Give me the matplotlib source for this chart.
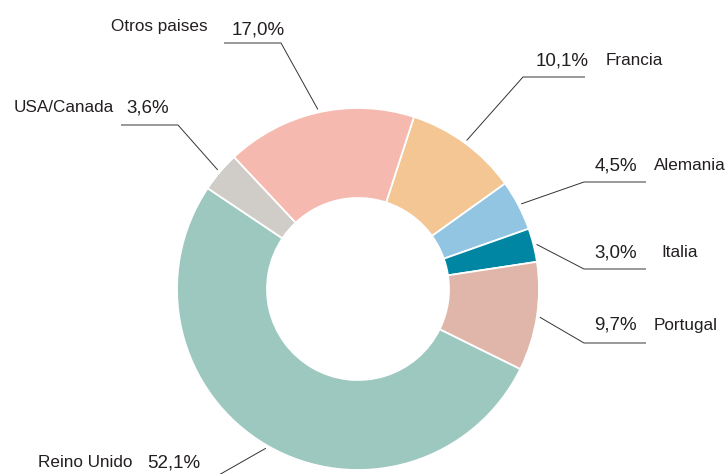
import numpy as np
import matplotlib.pyplot as plt

plt.rcParams['font.family'] = ['Liberation Sans', 'DejaVu Sans']

# datos (sentido horario desde Francia)
paises = ['Francia', 'Alemania', 'Italia', 'Portugal', 'Reino Unido', 'USA/Canada', 'Otros paises']
porcentajes = [10.1, 4.5, 3.0, 9.7, 52.1, 3.6, 17.0]
colores = ['#f3c693', '#92c5e1', '#0086a3', '#e1b6aa', '#9dc8c0', '#d0ccc7', '#f6b9af']

W, H = 727, 474
fig = plt.figure(figsize=(W / 100, H / 100), dpi=100)
ax = fig.add_axes([0, 0, 1, 1])

cx, cy, R = 358, H - 289, 181
wedges, _ = ax.pie(porcentajes, colors=colores, startangle=72, counterclock=False,
                   center=(cx, cy), radius=R,
                   wedgeprops=dict(width=90, edgecolor='white', linewidth=1.3))
ax.set_xlim(0, W)
ax.set_ylim(0, H)
ax.set_aspect('auto')
ax.axis('off')

# codo de la guía y final del tramo horizontal (px desde arriba)
codos = [(523, 77, 585), (584, 182, 646), (584, 269, 646), (584, 343, 646),
         (203, 484, 140), (178, 125, 121), (281, 43, 224)]
# posición del porcentaje (x, y base, alineación) y del nombre (x, y base)
pos_pct = [(589, 65, 'right'), (637, 170, 'right'), (637, 257, 'right'), (637, 330, 'right'),
           (147, 467, 'left'), (126, 112, 'left'), (232, 34, 'left')]
pos_nombre = [(606, 65), (654, 170), (661, 257), (654, 330),
              (38, 467), (14, 112), (111, 31)]

txt = dict(color='#231f20', va='baseline')
for w, p, v, (ex, ey, hx), (px, py, ha), (nx, ny) in zip(wedges, paises, porcentajes,
                                                         codos, pos_pct, pos_nombre):
    ang = np.deg2rad((w.theta1 + w.theta2) / 2)
    x0 = cx + (R + 3) * np.cos(ang)
    y0 = cy + (R + 3) * np.sin(ang)
    ax.plot([x0, ex, hx], [y0, H - ey, H - ey], color='#333333', lw=0.7,
            solid_capstyle='butt', clip_on=True)
    etiqueta = f'{v:.1f}'.replace('.', ',') + '%'
    ax.text(px, H - py, etiqueta, ha=ha, fontsize=13.5, **txt)
    ax.text(nx, H - ny, p, ha='left', fontsize=12.3, **txt)

fig.savefig('out.png', dpi=100)
